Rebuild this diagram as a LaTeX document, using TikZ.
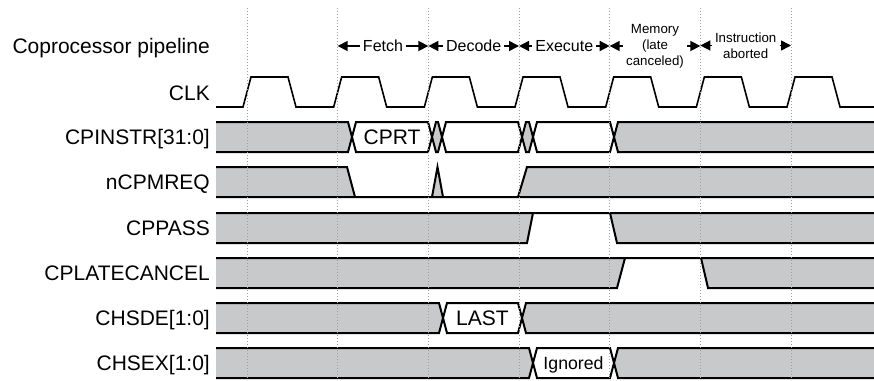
\documentclass[tikz,border=0pt]{standalone}
\usepackage{fontspec}
\setmainfont{Liberation Sans}
\usepackage{tikz}
\usetikzlibrary{arrows.meta,calc}
\definecolor{busgray}{HTML}{C8C9CB}

\begin{document}
\begin{tikzpicture}[x=1pt,y=-1pt,
  lbl/.style={anchor=base east,inner sep=0pt,font=\fontsize{21}{24}\selectfont},
  stage/.style={inner sep=3pt,font=\fontsize{16}{19}\selectfont},
  substage/.style={inner sep=3pt,align=center,font=\fontsize{13.3}{16}\selectfont},
  stagearrow/.style={line width=1.5pt,-{Triangle[length=10pt,width=10pt]}},
  wire/.style={line width=2pt,line join=miter},
  bus/.style={wire,fill=busgray},
  clk/.style={line width=1.6pt,line join=miter},
  gridline/.style={gray!75,line width=.8pt,dash pattern=on .8pt off 2.2pt}]
  \useasboundingbox (0,0) rectangle (874,380);
  \foreach \k in {0,...,6}{\coordinate (g\k) at ({247+90.67*\k},8);}
  \node[lbl] (pipe) at (210,53) {Coprocessor pipeline};
  \foreach \y/\t/\n in {100/CLK/lclk,144.5/CPINSTR[31:0]/linstr,189.5/nCPMREQ/lmreq,235.5/CPPASS/lpass,
      280.5/CPLATECANCEL/llate,325.5/CHSDE[1:0]/lsde,370.5/CHSEX[1:0]/lsex}{\node[lbl] (\n) at (210,\y) {\t};}
  \node[stage] (fetch) at (383,46) {Fetch};
  \node[stage] (decode) at (473.7,46) {Decode};
  \node[stage] (execute) at (564.3,46) {Execute};
  \node[substage] (memory) at (655,46) {Memory\\(late\\canceled)};
  \node[substage] (abort) at (745.7,45.5) {Instruction\\aborted};
  \foreach \n/\l/\r in {fetch/1/2,decode/2/3,execute/3/4,memory/4/5,abort/5/6}{
    \draw[stagearrow] (\n.west) -- (\n.west -| g\l);
    \draw[stagearrow] (\n.east) -- (\n.east -| g\r);}
  \draw[clk] (216,107) \foreach \k in {0,...,6}{ -- ({243+90.67*\k},107) -- ({251+90.67*\k},77)
      -- ({288+90.67*\k},77) -- ({296+90.67*\k},107)} -- (874,107);
  \begin{scope}
    \clip (216,0) rectangle (874,380);
    \foreach \c/\a/\b/\f in {137/200/352/busgray,137/352/432/white,137/432/442/busgray,137/442/522/white,
        137/522/533/busgray,137/533/614/white,137/614/890/busgray,
        318/200/443/busgray,318/443/522/white,318/522/890/busgray,
        363/200/533/busgray,363/533/614/white,363/614/890/busgray}{
      \draw[bus,fill=\f] (\a,\c) -- ({\a+4},{\c-15}) -- ({\b-4},{\c-15}) -- (\b,\c)
        -- ({\b-4},{\c+15}) -- ({\a+4},{\c+15}) -- cycle;}
  \end{scope}
  \node[anchor=base,inner sep=0pt,font=\fontsize{21}{24}\selectfont] (cprt) at (392,144.5) {CPRT};
  \node[anchor=base,inner sep=0pt,font=\fontsize{21}{24}\selectfont] (last) at (482.5,325.5) {LAST};
  \node[anchor=base,inner sep=0pt,font=\fontsize{17.7}{20}\selectfont] (ignored) at (573.5,369) {Ignored};
  \fill[busgray] (216,167) -- (347,167) -- (355,197) -- (216,197) -- cycle
    (432,197) -- (437.5,167) -- (443,197) -- cycle
    (518,197) -- (527,167) -- (874,167) -- (874,197) -- cycle;
  \draw[wire] (216,167) -- (347,167) -- (355,197) (216,197) -- (874,197)
    (432,197) -- (437.5,167) -- (443,197) (518,197) -- (527,167) -- (874,167);
  \fill[busgray] (216,213) -- (533,213) -- (527,243) -- (216,243) -- cycle
    (610,213) -- (617,243) -- (874,243) -- (874,213) -- cycle;
  \draw[wire] (216,213) -- (874,213) (216,243) -- (527,243) -- (533,213)
    (610,213) -- (617,243) -- (874,243);
  \fill[busgray] (216,258) -- (625,258) -- (617,288) -- (216,288) -- cycle
    (701,258) -- (708,288) -- (874,288) -- (874,258) -- cycle;
  \draw[wire] (216,258) -- (874,258) (216,288) -- (617,288) -- (625,258)
    (701,258) -- (708,288) -- (874,288);
  \foreach \k in {0,...,6}{\draw[gridline] (g\k) -- ++(0,372);}
\end{tikzpicture}
\end{document}
